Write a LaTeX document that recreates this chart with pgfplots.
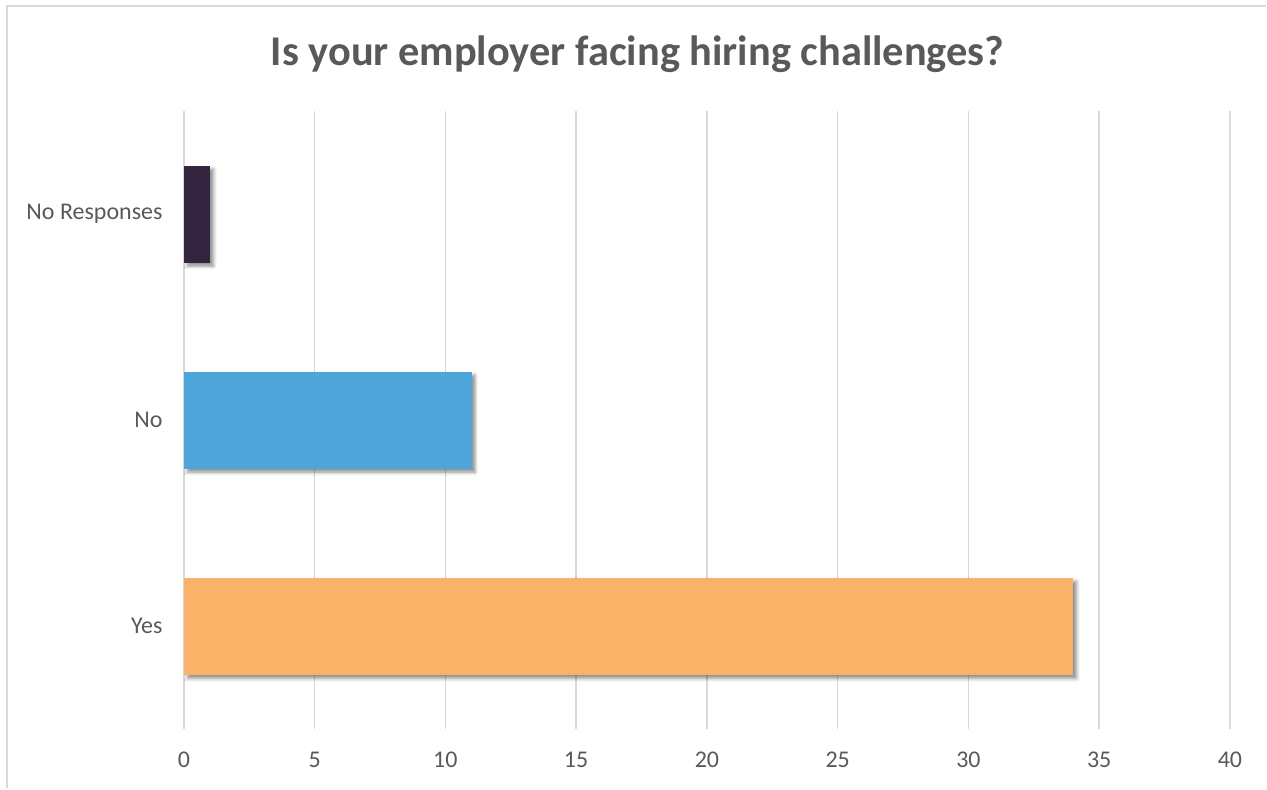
\documentclass[border=0pt]{standalone}
\usepackage{pgfplots}
\pgfplotsset{compat=1.18}
\usepackage{fontspec}
\setmainfont{Carlito}
\usetikzlibrary{shadows.blur}
\definecolor{txt}{HTML}{595959}
\definecolor{gridc}{HTML}{D9D9D9}
\definecolor{cdark}{HTML}{33243F}
\definecolor{cblue}{HTML}{4EA5D9}
\definecolor{corange}{HTML}{F9B268}
\begin{document}
\begin{tikzpicture}
% canvas 1267x789 px, 1px = 0.375pt
\path (0,0) rectangle (475.125pt,-295.875pt);
\draw[gridc, line width=0.75pt] (2.625pt,-295.875pt) -- (2.625pt,-2.25pt) -- (475.125pt,-2.25pt);
\node[txt, anchor=base, inner sep=0pt, font=\fontsize{15.9}{19}\selectfont\bfseries] at (239.3pt,-24.4pt) {Is your employer facing hiring challenges?};
\begin{axis}[
  at={(69pt,-273.75pt)}, anchor=south west,
  scale only axis, width=392.6pt, height=232.1pt,
  xmin=0, xmax=40, ymin=-0.5, ymax=2.5,
  xtick={0,5,...,40}, ytick={0,1,2},
  yticklabels={Yes,No,No Responses},
  axis line style={draw=none}, major tick length=0pt,
  xmajorgrids, major grid style={gridc, line width=0.6pt},
  tick label style={txt, font=\fontsize{9}{11}\selectfont},
  /pgf/number format/assume math mode=true,
  xticklabel style={yshift=-5pt},
  yticklabel style={xshift=-4.5pt},
  xbar, bar shift=0pt, bar width=36.4pt,
  every axis plot/.append style={draw=none,
    blur shadow={shadow xshift=1.3pt, shadow yshift=-1.3pt, shadow blur radius=1.3pt, shadow opacity=45}},
]
\addplot[fill=corange] coordinates {(34,0)};
\addplot[fill=cblue] coordinates {(11,1)};
\addplot[fill=cdark] coordinates {(1,2)};
\end{axis}
\end{tikzpicture}
\end{document}
